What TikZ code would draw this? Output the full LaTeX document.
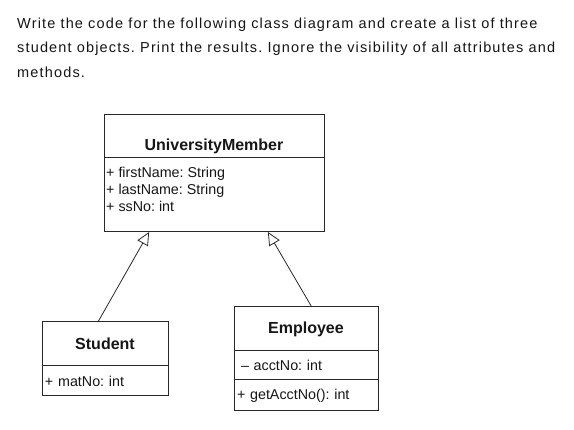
\documentclass[tikz,border=0pt]{standalone}
\usepackage{fontspec}
\setmainfont{Liberation Sans}
\newfontfamily\headfont[LetterSpace=8]{Liberation Sans}
\usepackage{xcolor}
\usepackage{tikz}
\usetikzlibrary{positioning, arrows.meta, calc}
\definecolor{ink}{RGB}{22,22,22}
\definecolor{rule}{RGB}{40,40,40}
\tikzset{
  headline/.style  ={anchor=base west, inner sep=0pt, text=ink,
                     font=\headfont\fontsize{14.5}{17}\selectfont},
  classtitle/.style={rectangle, draw=rule, line width=1pt, inner sep=0pt, outer sep=0pt,
                     text=ink, font=\bfseries\fontsize{16}{19}\selectfont},
  compart/.style   ={rectangle, draw=rule, line width=1pt, inner xsep=3pt, inner ysep=0pt,
                     outer sep=0pt, text=ink, align=left,
                     font=\fontsize{14.3}{17}\selectfont},
  membertext/.style={inner sep=0pt, text=ink, align=left, anchor=north west,
                     font=\fontsize{14.3}{17}\selectfont},
  inherit/.style   ={-{Triangle[open, length=13pt, width=12pt]}, line width=0.8pt, color=rule},
}
\frenchspacing
\begin{document}
\begin{tikzpicture}[x=1pt, y=-1pt]
\useasboundingbox[fill=white] (0,0) rectangle (574,430);

\node[headline] (line1) at (17,28.5)
  {Write the code for the following class diagram and create a list of three};
\node[headline] (line2) at (17,53)
  {student objects. Print the results. Ignore the visibility of all attributes and};
\node[headline] (line3) at (17,77.5) {methods.};

% UniversityMember
\node[classtitle, anchor=north west, minimum width=220pt, minimum height=43pt,
  text height=28pt, text depth=0pt] (umtitle) at (104,115) {UniversityMember};
\node[compart, below=0pt of umtitle, minimum width=220pt, minimum height=74pt] (umattr) {};
\node[membertext] (umattrtext) at ($(umattr.north west)+(2,9)$)
  {+ firstName: String\\+ lastName: String\\+ ssNo: int};

% Student
\node[classtitle, anchor=north west, minimum width=126pt, minimum height=44pt]
  (stutitle) at (42,322) {Student};
\node[compart, below=0pt of stutitle, text width=120pt, minimum height=30pt]
  (stuattr) {+ matNo: int};

% Employee
\node[classtitle, anchor=north west, minimum width=144pt, minimum height=44pt]
  (emptitle) at (234,307) {Employee};
\node[compart, below=0pt of emptitle, text width=138pt, minimum height=29pt]
  (empattr) {\hspace*{4pt}– acctNo: int};
\node[compart, below=0pt of empattr, text width=138pt, minimum height=31pt]
  (empops) {+ getAcctNo(): int};

\draw[inherit] ($(stutitle.north west)!0.444!(stutitle.north east)$)
  -- ($(umattr.south west)!0.205!(umattr.south east)$);
\draw[inherit] ($(emptitle.north west)!0.54!(emptitle.north east)$)
  -- ($(umattr.south west)!0.745!(umattr.south east)$);
\end{tikzpicture}
\end{document}
